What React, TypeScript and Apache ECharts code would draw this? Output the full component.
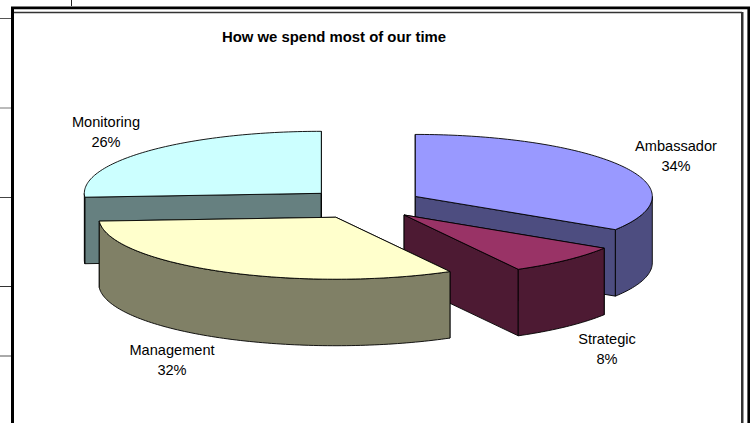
import React, { useEffect, useRef } from "react";
import * as echarts from "echarts";

const chartTitle = "How we spend most of our time";
const categories = ["Ambassador", "Strategic", "Management", "Monitoring"];
const shares = [34, 8, 32, 26];
const topColors = ["#9999FF", "#993366", "#FFFFCC", "#CCFFFF"];
const sideColors = ["#4D4D80", "#4D1A33", "#808066", "#668080"];
const drawOrder = [3, 0, 1, 2];
const labelCenters = [
  [676, 156],
  [607, 349],
  [172, 360],
  [106, 132],
];

const CX = 364;
const CY = 203.8;
const RX = 237;
const RY = 62;
const DEPTH = 66.5;
const EXPLODE = 0.247;
const FONT = "'Liberation Sans', Arial, sans-serif";

const total = shares.reduce((a, b) => a + b, 0);
const startAngles = shares.map((_, i) =>
  (shares.slice(0, i).reduce((a, b) => a + b, 0) / total) * Math.PI * 2
);

function arcPoints(cx: number, cy: number, a0: number, a1: number, dy = 0) {
  const n = Math.max(2, Math.ceil((a1 - a0) / 0.02));
  const pts: number[][] = [];
  for (let i = 0; i <= n; i++) {
    const a = a0 + ((a1 - a0) * i) / n;
    pts.push([cx + RX * Math.sin(a), cy - RY * Math.cos(a) + dy]);
  }
  return pts;
}

function renderSlice(_params: any, api: any) {
  const idx = api.value(0);
  const a0 = startAngles[idx];
  const a1 = a0 + (api.value(1) / total) * Math.PI * 2;
  const mid = (a0 + a1) / 2;
  const cx = CX + RX * EXPLODE * Math.sin(mid);
  const cy = CY - RY * EXPLODE * Math.cos(mid);
  const line = { stroke: "#000", lineWidth: 0.9, lineJoin: "round" };
  const children: any[] = [];
  const wall = (p: number[]) => ({
    type: "polygon",
    shape: {
      points: [[cx, cy], p, [p[0], p[1] + DEPTH], [cx, cy + DEPTH]],
    },
    style: { fill: sideColors[idx], ...line },
  });
  const arc = arcPoints(cx, cy, a0, a1);
  children.push(wall(arc[0]));
  children.push(wall(arc[arc.length - 1]));
  const f0 = Math.max(a0, Math.PI / 2);
  const f1 = Math.min(a1, (Math.PI * 3) / 2);
  if (f1 > f0) {
    const upper = arcPoints(cx, cy, f0, f1);
    const lower = arcPoints(cx, cy, f0, f1, DEPTH).reverse();
    children.push({
      type: "polygon",
      shape: { points: [...upper, ...lower] },
      style: { fill: sideColors[idx], ...line },
    });
  }
  children.push({
    type: "polygon",
    shape: { points: [[cx, cy], ...arc] },
    style: { fill: topColors[idx], ...line },
  });
  children.push({
    type: "text",
    x: labelCenters[idx][0],
    y: labelCenters[idx][1],
    style: {
      text: `${categories[idx]}\n${shares[idx]}%`,
      font: `14.6px ${FONT}`,
      fill: "#000",
      align: "center",
      verticalAlign: "middle",
      lineHeight: 20,
    },
  });
  return { type: "group", children };
}

const rule = (x1: number, y1: number, x2: number, y2: number, stroke: string, lineWidth: number) => ({
  type: "line",
  silent: true,
  shape: { x1, y1, x2, y2 },
  style: { stroke, lineWidth },
});

export default function App() {
  const ref = useRef<HTMLDivElement>(null);
  useEffect(() => {
    document.body.style.margin = "0";
    const chart = echarts.init(ref.current!, null, { renderer: "svg" });
    chart.setOption({
      animation: false,
      backgroundColor: "#fff",
      title: {
        text: chartTitle,
        left: 329,
        top: 24,
        textAlign: "center",
        textStyle: { fontFamily: FONT, fontSize: 14.9, fontWeight: "bold", color: "#000" },
      },
      graphic: [
        rule(0, 18.5, 11, 18.5, "#555", 1),
        rule(0, 108, 11, 108, "#777", 1),
        rule(0, 197.5, 11, 197.5, "#444", 1),
        rule(0, 286.5, 11, 286.5, "#333", 1),
        rule(0, 356, 11, 356, "#555", 1),
        rule(71.5, 0, 71.5, 7, "#222", 1),
        rule(11, 6.5, 750, 6.5, "#aaa", 1),
        rule(747.5, 7, 747.5, 423, "#aaa", 1),
        rule(14, 12.5, 742, 12.5, "#333", 1.6),
        rule(742, 12, 742, 423, "#333", 2),
        rule(743.5, 12, 743.5, 423, "#999", 1),
        rule(11, 8, 750, 8, "#000", 2.4),
        rule(12.5, 7, 12.5, 423, "#000", 3),
        rule(748.8, 7, 748.8, 423, "#000", 2.4),
      ],
      series: [
        {
          type: "custom",
          coordinateSystem: "none",
          silent: true,
          renderItem: renderSlice,
          data: drawOrder.map((i) => [i, shares[i]]),
        },
      ],
    });
    return () => chart.dispose();
  }, []);
  return <div ref={ref} style={{ width: 754, height: 423 }} />;
}
